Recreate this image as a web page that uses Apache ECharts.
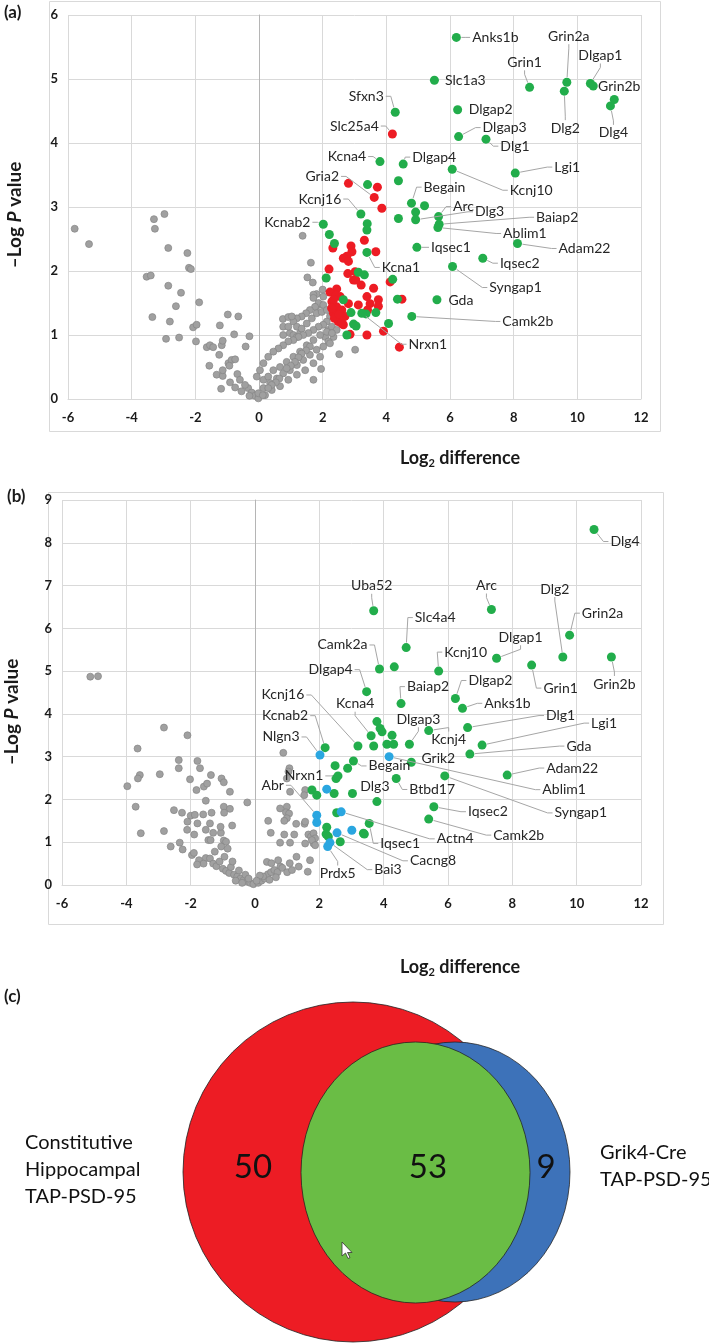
<!DOCTYPE html>
<html><head><meta charset="utf-8">
<script src="https://cdn.jsdelivr.net/npm/echarts@6/dist/echarts.min.js"></script>
<style>html,body{margin:0;padding:0;background:#fff}#c{width:709px;height:1343px}</style>
</head><body><div id="c"></div>
<script>
// ---------------- DATA ----------------
const xTicks = [-6, 12, 2];          // min, max, interval of Log2 difference axis
const yTicksA = [0, 6, 1];
const yTicksB = [0, 9, 1];

// Panel (a): labelled points
const aGreenNamed = [
 ['Anks1b',6.2,5.65],['Slc1a3',5.51,4.98],['Grin1',8.5,4.87],['Grin2a',9.67,4.95],['Dlg2',9.59,4.81],
 ['Dlgap1',10.41,4.93],['Grin2b',10.5,4.89],['Dlg4',11.04,4.58],['Sfxn3',4.28,4.48],['Dlgap2',6.24,4.52],
 ['Dlgap3',6.27,4.1],['Dlg1',7.13,4.06],['Kcna4',3.8,3.71],['Dlgap4',4.53,3.67],['Kcnj10',6.07,3.59],
 ['Lgi1',8.05,3.53],['Begain',4.79,3.06],['Arc',5.64,2.85],['Dlg3',4.92,2.8],['Baiap2',5.66,2.73],
 ['Ablim1',5.62,2.68],['Iqsec1',4.96,2.37],['Adam22',8.12,2.43],['Iqsec2',7.03,2.2],['Syngap1',6.08,2.07],
 ['Kcna1',3.39,2.29],['Gda',5.59,1.55],['Camk2b',4.8,1.29],['Nrxn1',3.23,1.34],['Kcnj16',3.2,2.89],
 ['Kcnab2',2.02,2.73]
];
const aRedNamed = [['Slc25a4',4.19,4.14],['Gria2',3.62,3.15]];
const aGreen = [
 [11.16,4.68],[4.38,3.41],[3.41,3.35],[5.2,3.02],[4.92,2.92],[4.38,2.82],[3.4,2.74],[3.39,2.64],
 [2.21,2.57],[2.37,2.43],[3.12,1.98],[3.31,1.94],[2.11,1.89],[4.2,1.87],[4.35,1.56],[2.65,1.55],
 [2.89,1.35],[3.36,1.33],[3.67,1.35],[2.97,1.17],[3.05,1.14],[2.76,1.0],[4.07,1.18]
];
const aRed = [
 [2.81,3.37],[3.72,3.31],[3.86,2.98],[3.31,2.48],[2.89,2.39],[2.92,2.3],[2.76,2.23],[2.65,2.2],
 [2.81,2.15],[2.32,2.36],[3.67,2.3],[2.2,2.03],[2.79,1.96],[3.02,1.99],[3.21,1.78],[2.97,1.86],
 [4.12,1.83],[2.44,1.72],[2.23,1.67],[2.55,1.6],[2.29,1.52],[2.44,1.44],[2.34,1.34],[2.6,1.39],
 [2.7,1.29],[2.49,1.21],[2.65,1.16],[2.37,1.26],[2.81,1.49],[3.12,1.47],[3.39,1.6],[3.49,1.49],
 [3.6,1.73],[3.75,1.55],[3.41,1.39],[2.86,1.01],[3.39,1.0],[3.91,1.06],[4.49,1.56],[4.41,0.81],
 [2.42,1.62],[3.04,1.86],[2.6,1.18],[2.34,1.55],[2.28,1.42],[2.52,1.32],[3.75,1.45]
];
const aGrey = [
 [-5.79,2.66],[-5.34,2.42],[-3.3,2.81],[-2.97,2.89],[-3.27,2.66],[-2.85,2.36],[-2.25,2.28],[-2.2,2.05],
 [-2.14,2.03],[-3.53,1.91],[-3.4,1.93],[-2.85,1.77],[-2.45,1.66],[-2.61,1.45],[-1.88,1.51],[-3.35,1.28],
 [-2.8,1.21],[-0.98,1.32],[-0.65,1.29],[-2.07,1.12],[-1.96,1.16],[-1.23,1.15],[-2.92,0.94],[-2.51,0.96],
 [-1.98,0.9],[-0.78,1.01],[-0.3,0.98],[-1.64,0.81],[-1.54,0.84],[-1.44,0.81],[-1.17,0.84],[-1.14,0.91],
 [-0.42,0.82],[-1.25,0.69],[-0.96,0.56],[-0.86,0.61],[-0.75,0.62],[-0.93,0.52],[-1.56,0.52],[-1.33,0.38],
 [-1.14,0.36],[-1.14,0.45],[-1.19,0.16],[-0.91,0.26],[-0.68,0.39],[-0.6,0.3],[-0.75,0.18],[-0.34,0.17],
 [-0.44,0.22],[-0.23,0.1],[-0.13,0.05],[-0.02,0.01],[-0.55,0.12],[-0.3,0.05],
 [1.37,2.55],[1.63,2.13],[1.52,1.9],[1.69,1.82],[2.0,1.71],[1.81,1.64],[1.71,1.63],[1.9,1.48],
 [1.79,1.44],[0.75,1.25],[0.92,1.28],[1.08,1.26],[0.76,1.0],[0.97,1.03],[1.08,1.0],[1.19,0.97],
 [1.29,1.03],[2.18,1.08],[2.08,0.97],[3.02,0.77],[2.52,0.7],[1.95,0.47],[1.71,0.3],
 [1.71,1.58],[2.02,1.6],[1.87,1.5],[2.02,1.47],[1.76,1.44],[1.6,1.39],[1.48,1.34],[1.34,1.29],
 [1.19,1.26],[1.08,1.21],[0.76,1.13],[0.92,1.13],[1.19,1.13],[1.34,1.1],[1.5,1.18],[1.66,1.26],
 [1.81,1.34],[1.97,1.36],[2.13,1.39],[2.23,1.29],[2.13,1.21],[2.02,1.16],[1.87,1.13],[1.71,1.08],
 [1.55,1.03],[1.39,1.0],[1.24,0.97],[1.08,0.92],[0.92,0.9],[0.76,0.84],[0.61,0.79],[0.45,0.74],
 [0.29,0.66],[0.14,0.56],[0.03,0.45],[-0.07,0.35],[0.14,0.3],[0.29,0.35],[0.45,0.45],[0.66,0.5],
 [0.87,0.58],[1.08,0.66],[1.29,0.74],[1.5,0.84],[1.71,0.92],[1.92,1.0],[2.13,1.05],[2.29,1.13],
 [2.44,1.08],[2.6,1.23],[2.34,0.97],[2.18,0.9],[2.02,0.82],[1.81,0.77],[1.6,0.69],[1.39,0.61],
 [1.19,0.53],[0.97,0.45],[0.76,0.4],[0.56,0.32],[0.35,0.25],[0.14,0.17],[-0.02,0.09],[0.19,0.06],
 [0.4,0.14],[0.66,0.2],[0.92,0.3],[1.19,0.38],[1.45,0.45],[1.71,0.56],[1.92,0.66],[2.23,0.87],
 [1.03,1.29],[1.6,0.82],[1.48,0.76],[1.34,0.71],[1.24,0.65],[1.13,0.58],[1.0,0.52],[0.87,0.48],
 [0.64,0.32],[0.53,0.26],[0.4,0.22],[0.29,0.17],[0.12,0.06],[2.29,1.03]
];

// Panel (b)
const bGreenNamed = [
 ['Dlg4',10.54,8.31],['Uba52',3.69,6.41],['Arc',7.35,6.44],['Dlg2',9.57,5.33],['Grin2a',9.78,5.84],
 ['Grin2b',11.08,5.33],['Slc4a4',4.7,5.55],['Dlgap1',7.51,5.3],['Kcnj10',5.71,5.0],['Grin1',8.6,5.14],
 ['Camk2a',3.87,5.05],['Dlgap4',3.47,4.52],['Baiap2',4.54,4.24],['Dlgap2',6.23,4.36],['Anks1b',6.45,4.13],
 ['Dlg1',6.61,3.68],['Lgi1',7.06,3.27],['Gda',6.68,3.06],['Kcnj4',5.4,3.61],['Dlgap3',4.8,3.29],
 ['Kcna4',3.61,3.49],['Kcnj16',3.2,3.25],['Kcnab2',2.18,3.21],['Begain',3.06,2.9],['Grik2',4.86,2.87],
 ['Btbd17',4.39,2.49],['Syngap1',5.9,2.55],['Adam22',7.84,2.57],['Dlg3',3.79,1.95],['Nrxn1',2.58,2.55],
 ['Iqsec2',5.56,1.83],['Camk2b',5.4,1.54],['Iqsec1',3.55,1.44]
];
const bBlueNamed = [
 ['Nlgn3',2.02,3.04],['Ablim1',4.17,3.0],['Abr',1.92,1.63],['Actn4',2.68,1.71],['Cacng8',2.55,1.22],
 ['Prdx5',2.26,0.9],['Bai3',2.33,0.99]
];
const bGreen = [
 [4.33,5.1],[3.79,3.82],[3.89,3.66],[3.95,3.58],[4.26,3.5],[4.1,3.29],[4.31,3.29],[3.69,3.25],
 [2.49,2.79],[2.88,2.73],[1.77,2.22],[1.92,2.1],[2.46,2.14],[3.03,2.14],[2.52,2.49],[2.54,1.69],
 [3.37,1.21],[2.23,1.35],[2.28,1.13],[2.65,1.01],[2.21,1.19],[3.4,1.19]
];
const bBlue = [[2.23,2.24],[1.92,1.46],[3.01,1.28]];
const bGrey = [
 [-5.12,4.87],[-4.88,4.88],[-2.83,3.68],[-2.1,3.5],[-3.65,3.19],[-2.37,2.92],[-1.79,2.9],[-2.37,2.73],
 [-1.71,2.73],[-3.58,2.57],[-3.64,2.49],[-2.96,2.59],[-2.02,2.47],[-1.37,2.57],[-1.04,2.49],[-0.97,2.4],
 [-3.97,2.31],[-1.59,2.3],[-1.49,2.37],[-1.82,2.22],[-0.78,2.18],[-0.24,1.93],[-1.53,1.97],[-3.71,1.83],
 [-2.52,1.75],[-2.27,1.69],[-2.0,1.62],[-1.87,1.64],[-1.61,1.65],[-1.35,1.69],[-0.97,1.83],[-0.78,1.78],
 [-0.96,1.69],[-2.1,1.48],[-1.79,1.44],[-1.4,1.44],[-0.71,1.39],[-3.55,1.21],[-2.83,1.26],[-2.11,1.29],
 [-1.53,1.29],[-1.3,1.22],[-1.06,1.22],[-1.07,1.36],[-1.45,1.05],[-1.38,1.05],[-0.97,1.04],[-0.9,1.01],
 [-1.89,1.18],[-2.34,0.99],[-2.62,0.9],[-2.25,0.83],[-1.96,0.7],[-1.74,0.58],[-1.53,0.63],
 [-1.9,0.75],[-1.6,0.5],[-1.4,0.62],[-1.3,0.5],[-1.2,0.44],[-1.1,0.55],[-1.0,0.38],[-0.9,0.33],
 [-0.8,0.28],[-0.75,0.42],[-0.65,0.24],[-0.55,0.2],[-0.45,0.15],[-0.35,0.12],[-0.25,0.08],[-0.15,0.05],
 [-0.05,0.02],[-1.25,0.78],[-0.95,0.66],[-0.7,0.55],[-0.5,0.34],[-0.3,0.24],[-1.8,0.48],[-0.6,0.1],
 [-0.4,0.05],[-0.2,0.15],[-1.05,0.9],[-0.85,0.85],
 [0.88,3.09],[1.07,2.73],[0.99,2.49],[1.04,2.65],[1.09,2.18],[1.56,2.22],[1.53,2.1],[0.99,1.83],
 [0.96,1.7],[0.78,1.79],[1.06,1.67],[0.99,1.56],[0.41,1.5],[0.91,1.5],[1.28,1.43],[1.54,1.43],
 [1.56,1.48],[0.49,1.22],[0.91,1.18],[1.22,1.18],[1.66,1.18],[1.74,1.13],[1.82,1.21],[0.78,0.99],
 [1.09,0.99],[1.56,0.97],[1.82,0.97],[1.87,1.09],[1.77,1.05],[1.87,0.93],[0.37,0.54],[0.51,0.51],
 [0.72,0.58],[0.79,0.43],[1.08,0.51],[1.29,0.66],[1.36,0.43],[1.71,0.58],[1.64,0.31],[0.1,0.05],
 [0.2,0.1],[0.3,0.15],[0.4,0.25],[0.5,0.3],[0.6,0.35],[0.7,0.3],[0.85,0.4],[1.0,0.3],[1.15,0.35],
 [0.25,0.2],[0.45,0.12],[0.15,0.22],[0.05,0.1],[0.65,0.18]
];

// Panel (c) Venn
const vennCounts = [50, 53, 9];
const vennLeftLabel = ['Constitutive', 'Hippocampal', 'TAP-PSD-95'];
const vennRightLabel = ['Grik4-Cre', 'TAP-PSD-95'];

// ---------------- LAYOUT / STYLE (not data) ----------------
const aLabelOffsets = {
 Anks1b:[39,0],Slc1a3:[31,0],Grin1:[-5,-25],Grin2a:[2,-46],Dlg2:[1,37],Dlgap1:[10,-28],Grin2b:[26,0],
 Dlg4:[3,27],Sfxn3:[-29,-16],Slc25a4:[-38,-8],Dlgap2:[33,0],Dlgap3:[46,-9],Dlg1:[29,7],Kcna4:[-33,-5],
 Dlgap4:[31,-7],Kcnj10:[79,21],Lgi1:[52,-6],Begain:[33,-16],Arc:[25,-10],Dlg3:[74,-8],Baiap2:[118,-7],
 Ablim1:[87,6],Iqsec1:[34,0],Adam22:[67,5],Iqsec2:[37,5],Syngap1:[63,21],Kcna1:[34,15],Gda:[24,1],
 Camk2b:[116,5],Nrxn1:[66,31],Gria2:[-52,-21],Kcnj16:[-41,-15],Kcnab2:[-36,-2]
};
const bLabelOffsets = {
 Dlg4:[31,12],Uba52:[-2,-25],Arc:[-5,-24],Dlg2:[-8,-68],Grin2a:[33,-22],Grin2b:[3,27],Slc4a4:[29,-30],
 Dlgap1:[24,-21],Kcnj10:[27,-19],Grin1:[29,23],Camk2a:[-37,-24],Dlgap4:[-36,-22],Baiap2:[27,-17],
 Dlgap2:[35,-18],Anks1b:[45,-5],Dlg1:[93,-12],Lgi1:[122,-22],Gda:[109,-8],Kcnj4:[20,9],Dlgap3:[9,-25],
 Kcna4:[-16,-32],Kcnj16:[-75,-51],Kcnab2:[-40,-32],Nlgn3:[-39,-18],Begain:[36,5],Grik2:[27,-4],
 Ablim1:[175,33],Btbd17:[36,11],Syngap1:[136,37],Adam22:[65,-7],Dlg3:[-2,-15],Nrxn1:[-34,0],
 Abr:[-44,-30],Iqsec2:[54,5],Camk2b:[90,16],Actn4:[114,27],Iqsec1:[31,20],Cacng8:[96,28],Bai3:[58,27],
 Prdx5:[10,27]
};
const FONT = 'Lato, "Open Sans", sans-serif';
const LABEL_PX = 14;
const C_GREEN = '#22ad4b', C_RED = '#ed1c24', C_BLUE = '#2aa6e0', C_GREY = '#a0a0a0';

const measureCtx = document.createElement('canvas').getContext('2d');
function textW(t){ measureCtx.font = LABEL_PX + 'px ' + FONT; return measureCtx.measureText(t).width; }

function labelRenderer(named, offsets){
  return function(params, api){
    const name = named[params.dataIndex][0];
    const p = api.coord([api.value(0), api.value(1)]);
    const off = offsets[name] || [20,0];
    const cx = p[0] + off[0], cy = p[1] + off[1];
    const w = textW(name), h = LABEL_PX;
    let ax, ay, ex, ey;
    if (Math.abs(off[0]) > w/2 + 4) {
      ax = off[0] > 0 ? cx - w/2 - 2 : cx + w/2 + 2; ay = cy;
      ex = off[0] > 0 ? ax - 5 : ax + 5; ey = cy;
    } else {
      ax = cx; ay = off[1] > 0 ? cy - h/2 - 1 : cy + h/2 + 1;
      ex = ax; ey = ay + (off[1] > 0 ? -4 : 4);
    }
    const vx = ex - p[0], vy = ey - p[1], d = Math.hypot(vx, vy);
    const children = [];
    if (d > 6) {
      const r = 5;
      children.push({type:'polyline', shape:{points:[[p[0]+vx/d*r, p[1]+vy/d*r],[ex,ey],[ax,ay]]},
        style:{stroke:'#a6a6a6', lineWidth:1, fill:null}});
    }
    children.push({type:'text', x:cx, y:cy, style:{text:name, textAlign:'center', textVerticalAlign:'middle',
      font: LABEL_PX + 'px ' + FONT, fill:'#262626'}});
    return {type:'group', children};
  };
}

function xAxisCfg(g){
  return {gridIndex:g, type:'value', min:xTicks[0], max:xTicks[1], interval:xTicks[2],
    axisLine:{lineStyle:{color:'#d9d9d9'}}, axisTick:{show:false},
    splitLine:{lineStyle:{color:'#d9d9d9', width:1}},
    axisLabel:{fontFamily:FONT, fontWeight:'bold', fontSize:13, color:'#1a1a1a', margin:12}};
}
function yAxisCfg(g, t){
  return {gridIndex:g, type:'value', min:t[0], max:t[1], interval:t[2],
    axisLine:{show:true, onZero:true, lineStyle:{color:'#b5b5b5'}}, axisTick:{show:false},
    splitLine:{lineStyle:{color:'#d9d9d9', width:1}},
    axisLabel:{fontFamily:FONT, fontWeight:'bold', fontSize:13, color:'#1a1a1a', margin:10}};
}
function sc(g, data, color, size, z, border){
  return {type:'scatter', xAxisIndex:g, yAxisIndex:g, data, symbolSize:size, z, silent:true,
    itemStyle:{color, opacity:1, borderColor: border || color, borderWidth: border ? 0.7 : 0}};
}
const pts = arr => arr.map(d => [d[1], d[2]]);

const series = [
  sc(0, aGrey, C_GREY, 7, 2, '#858585'),
  sc(0, aRed, C_RED, 9, 3), sc(0, pts(aRedNamed), C_RED, 9, 3),
  sc(0, aGreen, C_GREEN, 9, 4), sc(0, pts(aGreenNamed), C_GREEN, 9, 4),
  {type:'custom', xAxisIndex:0, yAxisIndex:0, data:pts(aGreenNamed), renderItem:labelRenderer(aGreenNamed,aLabelOffsets), z:6, silent:true, clip:false},
  {type:'custom', xAxisIndex:0, yAxisIndex:0, data:pts(aRedNamed), renderItem:labelRenderer(aRedNamed,aLabelOffsets), z:6, silent:true, clip:false},
  sc(1, bGrey, C_GREY, 7, 2, '#858585'),
  sc(1, bGreen, C_GREEN, 9, 4), sc(1, pts(bGreenNamed), C_GREEN, 9, 4),
  sc(1, bBlue, C_BLUE, 9, 5), sc(1, pts(bBlueNamed), C_BLUE, 9, 5),
  {type:'custom', xAxisIndex:1, yAxisIndex:1, data:pts(bGreenNamed), renderItem:labelRenderer(bGreenNamed,bLabelOffsets), z:6, silent:true, clip:false},
  {type:'custom', xAxisIndex:1, yAxisIndex:1, data:pts(bBlueNamed), renderItem:labelRenderer(bBlueNamed,bLabelOffsets), z:6, silent:true, clip:false}
];

// Venn layout (pixels)
const venn = {
  red:{cx:353, cy:1172, rx:170, ry:170},
  blue:{cx:455, cy:1172, rx:115, ry:130},
  green:{cx:415.5, cy:1172.5, rx:114.5, ry:130.5},
  numPos:[[253,1167],[428,1167],[546,1167]],
  leftText:[25,1143,27], rightText:[600,1153,27]
};
function ell(e, fill){
  return {type:'circle', x:e.cx, y:e.cy, scaleX:e.rx/e.ry, scaleY:1, shape:{cx:0, cy:0, r:e.ry},
    style:{fill, stroke:'#1f1f1f', lineWidth:0.8}, silent:true};
}
const graphics = [
  {type:'rect', shape:{x:49.5, y:1.5, width:611, height:430}, style:{fill:null, stroke:'#d9d9d9', lineWidth:1}, silent:true},
  {type:'rect', shape:{x:48.5, y:492.5, width:615, height:432}, style:{fill:null, stroke:'#d9d9d9', lineWidth:1}, silent:true},
  {type:'text', x:4, y:13, style:{text:'(a)', font:'bold 17px '+FONT, fill:'#1a1a1a', textVerticalAlign:'middle'}},
  {type:'text', x:7, y:497, style:{text:'(b)', font:'bold 17px '+FONT, fill:'#1a1a1a', textVerticalAlign:'middle'}},
  {type:'text', x:4, y:997, style:{text:'(c)', font:'bold 17px '+FONT, fill:'#1a1a1a', textVerticalAlign:'middle'}},
];
function xTitle(cx, cy){
  return {type:'text', x:cx, y:cy, style:{text:'{a|Log}{s|2}{a| difference}', textAlign:'center', textVerticalAlign:'middle',
    rich:{a:{fontFamily:FONT, fontWeight:'bold', fontSize:18, fill:'#1a1a1a', lineHeight:22},
          s:{fontFamily:FONT, fontWeight:'bold', fontSize:11, fill:'#1a1a1a', lineHeight:22, verticalAlign:'bottom', padding:[10,0,0,0]}}}};
}
function yTitle(cx, cy){
  return {type:'text', x:cx, y:cy, rotation:Math.PI/2, style:{text:'{a|–Log }{i|P}{a| value}', textAlign:'center', textVerticalAlign:'middle',
    rich:{a:{fontFamily:FONT, fontWeight:'bold', fontSize:19, fill:'#1a1a1a'},
          i:{fontFamily:FONT, fontWeight:'bold', fontStyle:'italic', fontSize:19, fill:'#1a1a1a'}}}};
}
graphics.push(xTitle(460, 458), xTitle(460, 967), yTitle(15, 215), yTitle(12, 712));
graphics.push(ell(venn.red, '#ed1c24'), ell(venn.blue, '#3d72b9'), ell(venn.green, '#6abd45'));
vennCounts.forEach((n, i) => graphics.push({type:'text', x:venn.numPos[i][0], y:venn.numPos[i][1],
  style:{text:String(n), font:'33px '+FONT, fill:'#111', textAlign:'center', textVerticalAlign:'middle'}, z:10}));
vennLeftLabel.forEach((t, i) => graphics.push({type:'text', x:venn.leftText[0], y:venn.leftText[1]+i*venn.leftText[2],
  style:{text:t, font:'20px '+FONT, fill:'#111', textVerticalAlign:'middle'}}));
vennRightLabel.forEach((t, i) => graphics.push({type:'text', x:venn.rightText[0], y:venn.rightText[1]+i*venn.rightText[2],
  style:{text:t, font:'20px '+FONT, fill:'#111', textVerticalAlign:'middle'}}));
// mouse cursor artefact in the reference image
graphics.push({type:'polygon', shape:{points:[[342,1242],[342,1256],[345.5,1253],[348,1258.5],[350,1257.5],[347.5,1252.5],[352,1252.5]]},
  style:{fill:'#fff', stroke:'#333', lineWidth:0.8}, z:20});

const chart = echarts.init(document.getElementById('c'), null, {renderer:'canvas'});
chart.setOption({
  animation:false, backgroundColor:'#fff',
  grid:[{left:68, top:15, width:573, height:384}, {left:62, top:500, width:579, height:385}],
  xAxis:[xAxisCfg(0), xAxisCfg(1)],
  yAxis:[yAxisCfg(0, yTicksA), yAxisCfg(1, yTicksB)],
  series, graphic:{elements:graphics}
});
</script></body></html>
